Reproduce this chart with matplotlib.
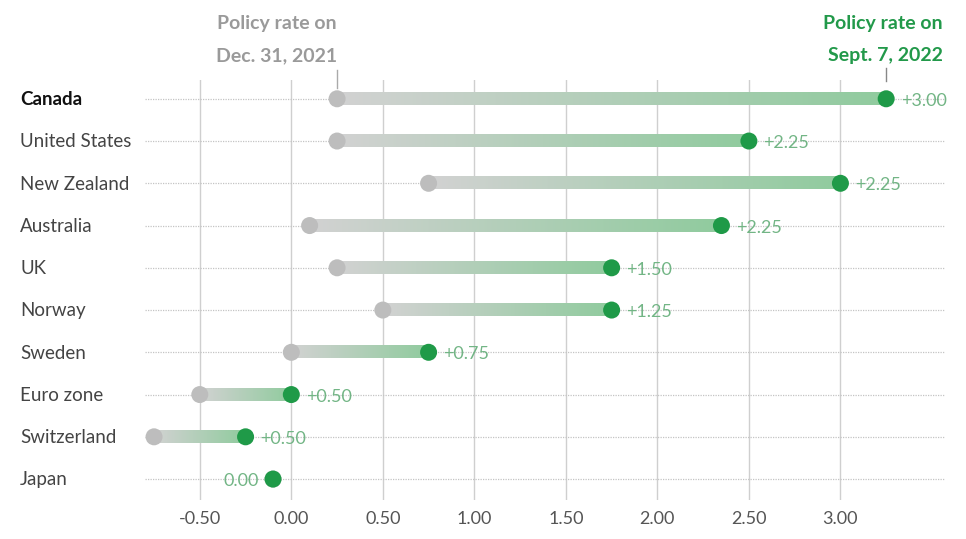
import matplotlib
matplotlib.use("Agg")

import matplotlib.pyplot as plt
from matplotlib.colors import LinearSegmentedColormap
import matplotlib.transforms as mtransforms
import numpy as np

countries = ["Canada", "United States", "New Zealand", "Australia", "UK",
             "Norway", "Sweden", "Euro zone", "Switzerland", "Japan"]
rate_2021 = [0.25, 0.25, 0.75, 0.10, 0.25, 0.50, 0.00, -0.50, -0.75, -0.10]
rate_2022 = [3.25, 2.50, 3.00, 2.35, 1.75, 1.75, 0.75, 0.00, -0.25, -0.10]
change_labels = ["+3.00", "+2.25", "+2.25", "+2.25", "+1.50",
                 "+1.25", "+0.75", "+0.50", "+0.50", "0.00"]
xticks = [-0.5, 0.0, 0.5, 1.0, 1.5, 2.0, 2.5, 3.0]

GRAY = "#bdbdbd"
GREEN = "#1f9a48"
LABEL_GREEN = "#72b585"
GRID = "#cfcfcf"

plt.rcParams["font.family"] = ["Lato", "DejaVu Sans"]

fig = plt.figure(figsize=(9.66, 5.39), dpi=100)
ax = fig.add_axes([0.150, 0.072, 0.828, 0.780])
ax.set_xlim(-0.80, 3.57)
ax.set_ylim(9.5, -0.45)

# vertical grid
for xt in xticks:
    ax.axvline(xt, color=GRID, lw=1.0, zorder=0)

bar_cmap = LinearSegmentedColormap.from_list("bar", ["#d2d2d2", "#90cb9e"])
grad = np.linspace(0, 1, 256).reshape(1, -1)
half = 0.145

for i, (c, a, b, lab) in enumerate(zip(countries, rate_2021, rate_2022, change_labels)):
    # dotted row guide
    ax.plot([-0.80, 3.57], [i, i], color="#c4c4c4", lw=0.9, ls=(0, (1, 1)), zorder=1)
    if b > a:
        ax.imshow(grad, cmap=bar_cmap, extent=[a, b, i + half, i - half],
                  aspect="auto", zorder=2, interpolation="bilinear")
    ax.scatter([a], [i], s=150, color=GRAY, zorder=3, edgecolors="none")
    ax.scatter([b], [i], s=150, color=GREEN, zorder=4, edgecolors="none")
    if b > a:
        ax.text(b + 0.08, i + 0.05, lab, color=LABEL_GREEN, fontsize=13,
                ha="left", va="center", zorder=5)
    else:
        ax.text(b - 0.08, i + 0.05, lab, color=LABEL_GREEN, fontsize=13,
                ha="right", va="center", zorder=5)

# country names on the left edge of the figure
trans = mtransforms.blended_transform_factory(fig.transFigure, ax.transData)
for i, c in enumerate(countries):
    ax.text(0.021, i + 0.02, c, transform=trans, ha="left", va="center",
            fontsize=13.5, color="#111111" if i == 0 else "#444444",
            fontweight="bold" if i == 0 else "normal")

ax.set_xticks(xticks)
ax.set_xticklabels(["%.2f" % v for v in xticks], fontsize=13, color="#555555")
ax.tick_params(axis="x", length=0, pad=8)
ax.set_yticks([])
for s in ax.spines.values():
    s.set_visible(False)

# column headers
ax.plot([rate_2021[0], rate_2021[0]], [-0.69, -0.26], color="#aaaaaa", lw=1,
        clip_on=False, zorder=3)
ax.plot([rate_2022[0], rate_2022[0]], [-0.74, -0.42], color="#888888", lw=1,
        clip_on=False, zorder=3)
ax.text(rate_2021[0], -0.82, "Policy rate on\nDec. 31, 2021", ha="right", va="bottom",
        fontsize=14, fontweight="bold", color="#9a9a9a", linespacing=2.1)
ax.text(3.56, -0.82, "Policy rate on\nSept. 7, 2022", ha="right", va="bottom",
        fontsize=14, fontweight="bold", color="#22994a", linespacing=2.1)

fig.savefig("out.png", dpi=100)
